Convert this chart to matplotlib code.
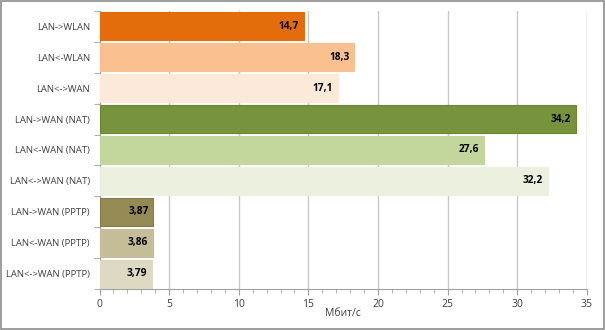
import matplotlib

matplotlib.use("Agg")
import matplotlib.pyplot as plt  # noqa: E402
from matplotlib.patches import Rectangle  # noqa: E402
from matplotlib.ticker import MultipleLocator  # noqa: E402

plt.rcParams["font.family"] = ["Open Sans", "DejaVu Sans"]

labels = [
    "LAN->WLAN", "LAN<-WLAN", "LAN<->WAN",
    "LAN->WAN (NAT)", "LAN<-WAN (NAT)", "LAN<->WAN (NAT)",
    "LAN->WAN (PPTP)", "LAN<-WAN (PPTP)", "LAN<->WAN (PPTP)",
]
values = [14.7, 18.3, 17.1, 34.2, 27.6, 32.2, 3.87, 3.86, 3.79]
value_text = ["14,7", "18,3", "17,1", "34,2", "27,6", "32,2", "3,87", "3,86", "3,79"]
colors = [
    "#E46C0A", "#FAC090", "#FDE9D9",
    "#77933C", "#C3D69B", "#EBF1DE",
    "#948A54", "#C4BD97", "#DDD9C3",
]
edges = [
    "#E46C0A", "#FAC090", "#FDE9D9",
    "#6A8533", "#C3D69B", "#EBF1DE",
    "#857C4B", "#C4BD97", "#DDD9C3",
]

fig = plt.figure(figsize=(6.05, 3.3), dpi=100)
fig.patches.append(Rectangle((0.0015, 0.002), 0.997, 0.995, transform=fig.transFigure,
                             fill=False, edgecolor="#8C8C8C", linewidth=1.2))
ax = fig.add_axes([0.1645, 0.124, 0.8055, 0.843])

y = list(range(len(labels)))
ax.barh(y, values, height=0.9, color=colors, edgecolor=edges, linewidth=0.8, zorder=3)
for yi, v, t in zip(y, values, value_text):
    ax.text(v - 0.35, yi, t, ha="right", va="center", fontsize=7.3, fontweight="bold",
            color="black", zorder=4)

ax.set_xlim(0, 35)
ax.set_ylim(len(labels) - 0.5, -0.5)
ax.xaxis.set_major_locator(MultipleLocator(5))
ax.xaxis.set_minor_locator(MultipleLocator(1))
ax.set_yticks(y)
ax.set_yticklabels(labels, fontsize=6.8)
ax.set_yticks([i - 0.5 for i in range(len(labels) + 1)], minor=True)
ax.tick_params(axis="y", which="major", length=0, pad=7, colors="#404040")
ax.tick_params(axis="y", which="minor", length=4, color="#A0A0A0", direction="out")
ax.tick_params(axis="x", which="major", length=4, color="#A0A0A0", labelsize=7.5,
               labelcolor="#404040", pad=3)
ax.tick_params(axis="x", which="minor", length=3, color="#A0A0A0")
ax.grid(axis="x", which="major", color="#C8C8C8", linewidth=1, zorder=0)
for s in ["top", "right"]:
    ax.spines[s].set_visible(False)
ax.spines["left"].set_color("#A0A0A0")
ax.spines["bottom"].set_color("#A0A0A0")
ax.set_xlabel("Мбит/с", fontsize=7.5, color="#404040", labelpad=-1)

fig.savefig("out.png", dpi=100)
